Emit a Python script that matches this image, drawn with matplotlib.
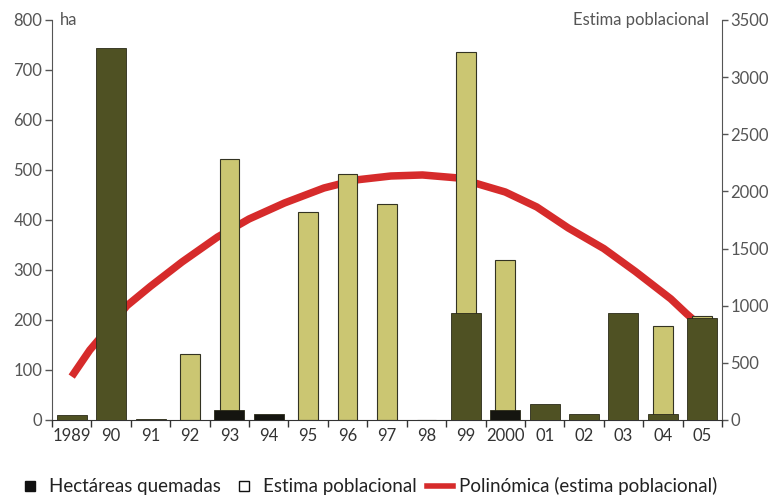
import numpy as np
import matplotlib
matplotlib.use('Agg')
import matplotlib.pyplot as plt
from matplotlib.lines import Line2D

plt.rcParams['font.family'] = ['Lato', 'DejaVu Sans']

# Data
years = ['1989', '90', '91', '92', '93', '94', '95', '96', '97', '98',
         '99', '2000', '01', '02', '03', '04', '05']
hectareas = [10, 745, 2, 0, 20, 12, 0, 0, 0, 1,
             215, 20, 32, 13, 215, 13, 205]
poblacion = [0, 0, 0, 580, 2280, 0, 1820, 2150, 1890, 0,
             3220, 1400, 0, 0, 0, 820, 910]
# trend curve, read at positions along the year axis (0 = 1989)
curva_pos = [0, 0.46, 1.0, 1.4, 2.0, 2.8, 3.7, 4.5, 5.4, 6.4, 7.2, 8.1,
             8.9, 9.8, 10.4, 11.0, 11.8, 12.6, 13.5, 14.3, 15.2, 15.6, 16.0]
curva_val = [380, 612, 831, 1000, 1170, 1383, 1601, 1759, 1899, 2030, 2100, 2135,
             2144, 2118, 2056, 1995, 1864, 1680, 1500, 1300, 1060, 930, 810]

olive = '#4f5123'
khaki = '#cbc672'
red = '#d62b2b'
grey = '#555555'
hect_colors = [olive, olive, olive, olive, '#151510', '#151510', olive, olive, olive, olive,
               olive, '#151510', olive, olive, olive, olive, olive]

x = np.arange(len(years))

fig = plt.figure(figsize=(7.76, 4.95), dpi=100)
ax = fig.add_axes([52 / 776, 1 - 420 / 495, 670 / 776, 400 / 495])
ax2 = ax.twinx()

# population (right axis) behind, hectares (left axis) in front
ax2.plot(curva_pos, curva_val, color=red, lw=5.4, solid_capstyle='butt',
         solid_joinstyle='round', zorder=1)
ax2.bar(x, poblacion, width=0.5, color=khaki, edgecolor='#333322', linewidth=0.8, zorder=2)
ax2.set_ylim(0, 3500)
ax2.set_yticks(range(0, 3501, 500))

ax.set_zorder(ax2.get_zorder() + 1)
ax.patch.set_visible(False)
ax.bar(x, hectareas, width=0.76, color=hect_colors, edgecolor='#2a2a18', linewidth=0.6, zorder=3)
ax.set_ylim(0, 800)
ax.set_yticks(range(0, 801, 100))
ax.set_xlim(-0.5, len(years) - 0.5)

ax.set_xticks(x)
ax.set_xticklabels(years)
ax.set_xticks(np.arange(-0.5, len(years)), minor=True)
ax.tick_params(axis='x', which='major', length=0, pad=6, labelsize=12, labelcolor='#333333')
ax.tick_params(axis='x', which='minor', length=5, width=1, color='#333333', direction='out')
ax.tick_params(axis='y', length=5, width=1, color=grey, labelsize=12, labelcolor=grey, pad=2)
ax2.tick_params(axis='y', length=4, width=1, color=grey, labelsize=12, labelcolor=grey, pad=2)

for a in (ax, ax2):
    a.spines['top'].set_visible(False)
ax.spines['left'].set_color(grey)
ax.spines['right'].set_visible(False)
ax2.spines['left'].set_visible(False)
ax2.spines['bottom'].set_visible(False)
ax2.spines['right'].set_color(grey)
ax.spines['bottom'].set_color('#333333')

ax.text(0.012, 1.0, 'ha', transform=ax.transAxes, ha='left', va='center',
        fontsize=12, color=grey)
ax.text(0.98, 1.0, 'Estima poblacional', transform=ax.transAxes, ha='right', va='center',
        fontsize=12, color=grey)

handles = [
    Line2D([], [], marker='s', ls='none', color='#111111', markersize=7),
    Line2D([], [], marker='s', ls='none', markerfacecolor='white',
           markeredgecolor='#111111', markersize=7),
    Line2D([], [], color=red, lw=4),
]
labels = ['Hectáreas quemadas', 'Estima poblacional', 'Polinómica (estima poblacional)']
fig.legend(handles, labels, loc='lower left', bbox_to_anchor=(0.0, -0.035), ncol=3,
           frameon=False, fontsize=13.5, handlelength=1.4, handletextpad=0.3,
           columnspacing=0.55, labelcolor='#222222')

fig.savefig('out.png', dpi=100)
